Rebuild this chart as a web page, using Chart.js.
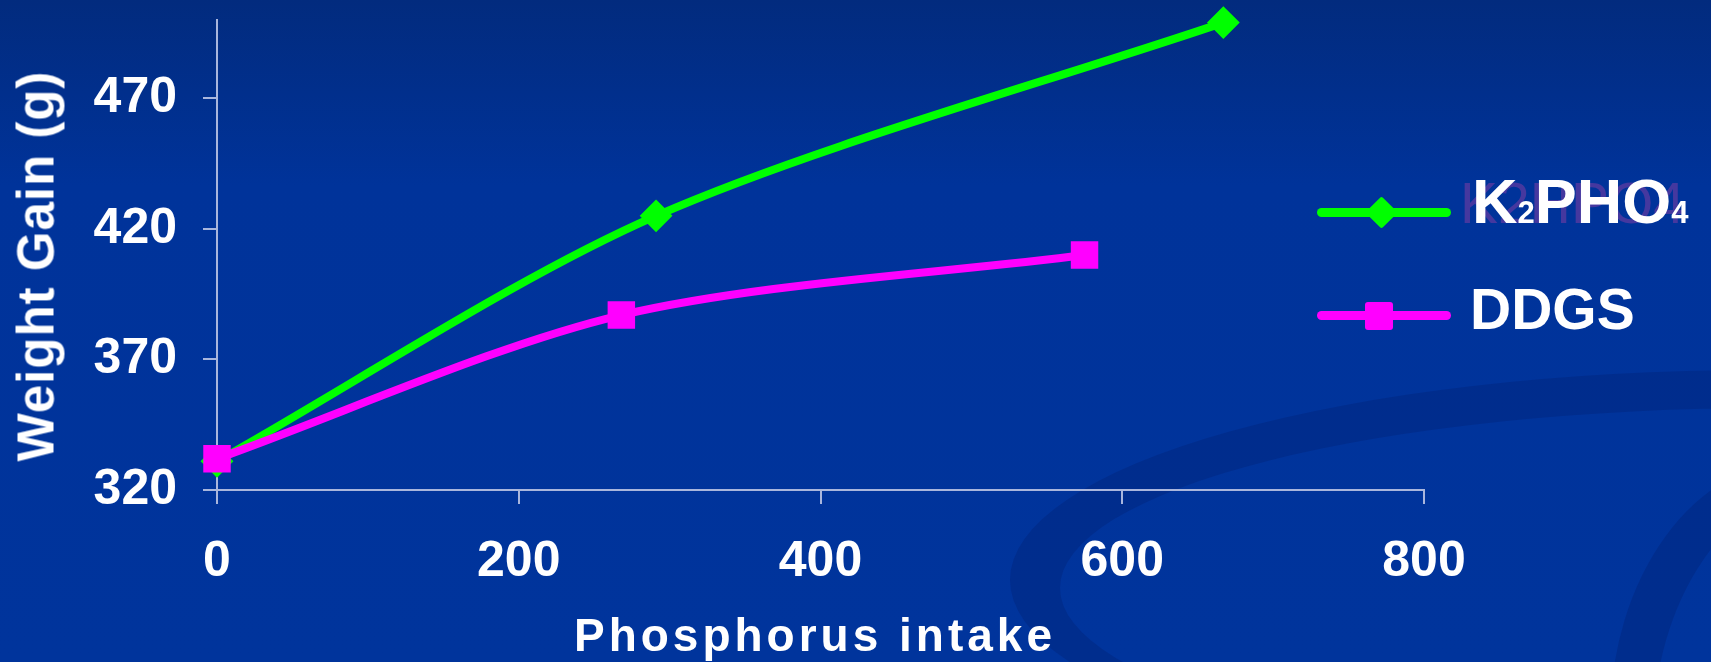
<!DOCTYPE html>
<html>
<head>
<meta charset="utf-8">
<script src="https://cdn.jsdelivr.net/npm/chart.js"></script>
<style>
  html, body { margin: 0; padding: 0; }
  body {
    width: 1711px; height: 662px; overflow: hidden; position: relative;
    background: linear-gradient(#022b7e 0%, #00339a 28%, #00349c 100%);
    font-family: "Liberation Sans", Arial, sans-serif; color: #fff;
  }
  #chart { position: absolute; left: 0; top: 0; }
  .ttl { position: absolute; font-weight: bold; white-space: nowrap; line-height: 1; }
  #xTitle { left: 815px; top: 612px; font-size: 46px; letter-spacing: 4px; transform: translateX(-50%); }
  #yTitle { left: 36px; top: 266px; font-size: 51px; letter-spacing: 1px; transform: translate(-50%, -50%) rotate(-90deg); }
  .lgLine { position: absolute; left: 1317px; width: 134px; height: 9px; border-radius: 5px; }
  .lgTxt { position: absolute; white-space: nowrap; line-height: 1; font-weight: bold; }
  .lgTxt small { font-size: 31px; }
</style>
</head>
<body>
<canvas id="chart" width="1711" height="662"></canvas>
<div class="ttl" id="yTitle">Weight Gain (g)</div>
<div class="ttl" id="xTitle">Phosphorus intake</div>

<!-- legend -->
<div class="lgTxt" style="left:1460px; top:175px; font-size:57px; font-weight:normal; color:#45389f;">K2HPO4</div>
<div class="lgLine" style="top:208px; background:#00ff00;"></div>
<div style="position:absolute; left:1370px; top:201px; width:23px; height:23px; background:#00ff00; border-radius:2px; transform:rotate(45deg);"></div>
<div class="lgTxt" style="left:1472px; top:170px; font-size:63px;">K<small>2</small>PHO<small>4</small></div>
<div class="lgLine" style="top:311px; background:#ff00ff;"></div>
<div style="position:absolute; left:1365px; top:302px; width:28px; height:28px; background:#ff00ff; border-radius:3px;"></div>
<div class="lgTxt" style="left:1470px; top:281px; font-size:57px;">DDGS</div>

<script>
// values
const xTicks = [0, 200, 400, 600, 800];
const yTicks = [320, 370, 420, 470];
const k2X = [0, 291, 667];
const k2Y = [331, 425, 499];
const ddgsX = [0, 268, 575];
const ddgsY = [332, 387, 410];

const axisColor = '#a9b6dd';
const fontFam = '"Liberation Sans", Arial, sans-serif';

// dark swooshes in the background
const swoosh = {
  id: 'swoosh',
  beforeDraw(chart) {
    const c = chart.ctx;
    c.save();
    c.fillStyle = 'rgba(0, 28, 105, 0.28)';
    c.beginPath();
    c.ellipse(1760, 580, 750, 210, 0, 0, Math.PI * 2);
    c.ellipse(1772, 588, 712, 180, 0, 0, Math.PI * 2);
    c.fill('evenodd');
    c.beginPath();
    c.ellipse(1800, 720, 190, 260, 0, 0, Math.PI * 2);
    c.ellipse(1825, 735, 172, 248, 0, 0, Math.PI * 2);
    c.fill('evenodd');
    c.restore();
  }
};

function pts(xs, ys) {
  return xs.map((x, i) => ({ x: x, y: ys[i] }));
}

var ctx = document.getElementById('chart').getContext('2d');
var chart = new Chart(ctx, {
  type: 'line',
  data: {
    datasets: [
      {
        label: 'K2PHO4',
        data: pts(k2X, k2Y),
        borderColor: '#00ff00',
        backgroundColor: '#00ff00',
        borderWidth: 8,
        pointStyle: 'rectRot',
        pointRadius: 15,
        pointBorderWidth: 2,
        tension: 0.3,
        fill: false,
        clip: false,
        order: 1
      },
      {
        label: 'DDGS',
        data: pts(ddgsX, ddgsY),
        borderColor: '#ff00ff',
        backgroundColor: '#ff00ff',
        borderWidth: 8,
        pointStyle: 'rect',
        pointRadius: 18,
        pointBorderWidth: 2,
        tension: 0.3,
        fill: false,
        clip: false,
        order: 0
      }
    ]
  },
  options: {
    responsive: false,
    animation: false,
    events: [],
    layout: { padding: { left: 0, top: 17, right: 287, bottom: 0 } },
    plugins: { legend: { display: false }, tooltip: { enabled: false } },
    scales: {
      x: {
        type: 'linear', min: 0, max: 800,
        afterBuildTicks: function (s) { s.ticks = xTicks.map(v => ({ value: v })); },
        afterFit: function (s) { s.height = 172; s.paddingLeft = 0; s.paddingRight = 0; },
        grid: { drawOnChartArea: false, drawTicks: true, tickLength: 14, color: axisColor, lineWidth: 2 },
        border: { color: axisColor, width: 2 },
        ticks: { color: '#fff', font: { family: fontFam, size: 50, weight: 'bold' }, padding: 28, maxRotation: 0, autoSkip: false }
      },
      y: {
        type: 'linear', min: 320, max: 500,
        afterBuildTicks: function (s) { s.ticks = yTicks.map(v => ({ value: v })); },
        afterFit: function (s) { s.width = 217; s.paddingTop = 0; s.paddingBottom = 0; },
        grid: { drawOnChartArea: false, drawTicks: true, tickLength: 14, color: axisColor, lineWidth: 2 },
        border: { color: axisColor, width: 2 },
        ticks: { color: '#fff', font: { family: fontFam, size: 50, weight: 'bold' }, padding: 26, autoSkip: false }
      }
    }
  },
  plugins: [swoosh]
});
</script>
</body>
</html>
